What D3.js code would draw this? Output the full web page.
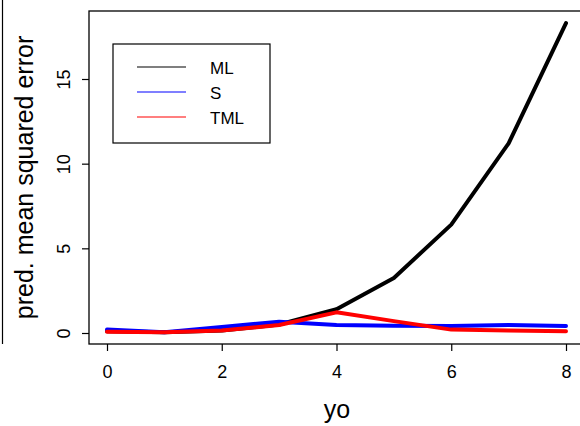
<!DOCTYPE html>
<html><head><meta charset="utf-8">
<script src="https://cdn.jsdelivr.net/npm/d3@7"></script>
<style>html,body{margin:0;padding:0;background:#fff;}svg{display:block;font-family:"Liberation Sans",Arial,sans-serif;}</style>
</head><body>
<script>
const xs = [0, 1, 2, 3, 4, 5, 6, 7, 8];
const ML  = [0.10, 0.05, 0.15, 0.50, 1.40, 3.25, 6.40, 11.20, 18.30];
const S   = [0.20, 0.05, 0.35, 0.67, 0.47, 0.43, 0.41, 0.47, 0.41];
const TML = [0.08, 0.05, 0.15, 0.47, 1.22, 0.70, 0.20, 0.15, 0.10];
const seriesNames = ["ML", "S", "TML"];
const seriesColors = ["#000000", "#0000ff", "#ff0000"];
const xTicks = [0, 2, 4, 6, 8];
const yTicks = [0, 5, 10, 15];

const W = 580, H = 426;
const svg = d3.select("body").append("svg").attr("width", W).attr("height", H);
const x = d3.scaleLinear().domain([0, 8]).range([107, 566]);
const y = d3.scaleLinear().domain([0, 15]).range([333, 79]);

// stray border from neighbouring panel
svg.append("line").attr("x1", 2.5).attr("x2", 2.5).attr("y1", 0).attr("y2", 344).attr("stroke", "#000").attr("stroke-width", 1.2);

// plot box
svg.append("rect").attr("x", 89).attr("y", 11).attr("width", 600).attr("height", 333)
  .attr("fill", "none").attr("stroke", "#000").attr("stroke-width", 1.3);

// x axis
const xa = svg.append("g").attr("transform", "translate(0,344)")
  .call(d3.axisBottom(x).tickValues(xTicks).tickSize(7).tickPadding(14).tickFormat(d3.format("d")));
xa.select(".domain").remove();
xa.selectAll("line").attr("stroke-width", 1.2);
xa.selectAll("text").attr("font-size", 18).attr("font-family", "Liberation Sans, Arial, sans-serif").attr("fill", "#000");

// y axis
const ya = svg.append("g").attr("transform", "translate(89,0)")
  .call(d3.axisLeft(y).tickValues(yTicks).tickSize(7).tickFormat(d3.format("d")));
ya.select(".domain").remove();
ya.selectAll("line").attr("stroke-width", 1.2);
ya.selectAll("text").remove();
ya.selectAll(".tick").append("text")
  .attr("transform", "translate(-19,0) rotate(-90)")
  .attr("text-anchor", "middle").attr("dy", 0)
  .attr("font-size", 18).attr("font-family", "Liberation Sans, Arial, sans-serif").attr("fill", "#000")
  .text(d => d);

// axis titles
svg.append("text").attr("x", 337).attr("y", 418).attr("text-anchor", "middle")
  .attr("font-size", 25).text("yo");
svg.append("text").attr("transform", "translate(33,177.5) rotate(-90)").attr("text-anchor", "middle")
  .attr("font-size", 25).text("pred. mean squared error");

// lines
const allSeries = [ML, S, TML];
const line = d3.line().x((d, i) => x(xs[i])).y(d => y(d));
allSeries.forEach((s, k) => {
  svg.append("path").datum(s).attr("d", line).attr("fill", "none")
    .attr("stroke", seriesColors[k]).attr("stroke-width", 4)
    .attr("stroke-linejoin", "round").attr("stroke-linecap", "round");
});

// legend
svg.append("rect").attr("x", 113).attr("y", 44).attr("width", 157).attr("height", 99)
  .attr("fill", "#fff").attr("stroke", "#000").attr("stroke-width", 1.2);
seriesNames.forEach((n, k) => {
  const ly = 67 + k * 25;
  svg.append("line").attr("x1", 137).attr("x2", 186).attr("y1", ly).attr("y2", ly)
    .attr("stroke", seriesColors[k]).attr("stroke-width", 1.2);
  svg.append("text").attr("x", 210).attr("y", ly + 6.5).attr("font-size", 17).text(n);
});
</script>
</body></html>
